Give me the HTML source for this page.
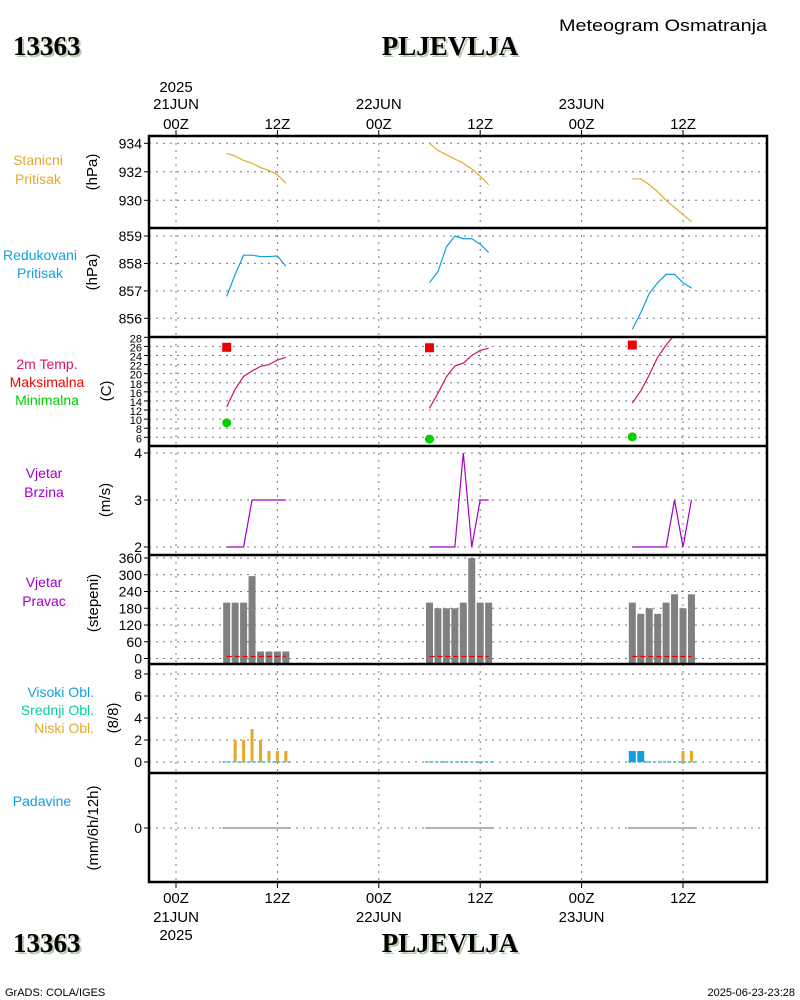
<!DOCTYPE html>
<html><head><meta charset="utf-8"><style>
body{margin:0;background:#fff;}
svg{display:block;font-family:"Liberation Sans",sans-serif;}
.ttl{font-family:"Liberation Serif",serif;font-weight:bold;font-size:27px;}
</style></head><body>
<svg id="c" width="800" height="1000" viewBox="0 0 800 1000" xmlns="http://www.w3.org/2000/svg">
<g>
<text x="663" y="31" text-anchor="middle" font-size="17" textLength="208" lengthAdjust="spacingAndGlyphs">Meteogram Osmatranja</text>
<text class="ttl" x="15" y="57" fill="#b8ccb0">13363</text>
<text class="ttl" x="13" y="55">13363</text>
<text class="ttl" x="452" y="57" text-anchor="middle" fill="#b8ccb0">PLJEVLJA</text>
<text class="ttl" x="450" y="55" text-anchor="middle">PLJEVLJA</text>
<text class="ttl" x="15" y="954" fill="#b8ccb0">13363</text>
<text class="ttl" x="13" y="952">13363</text>
<text class="ttl" x="452" y="954" text-anchor="middle" fill="#b8ccb0">PLJEVLJA</text>
<text class="ttl" x="450" y="952" text-anchor="middle">PLJEVLJA</text>
<text x="5" y="996" font-size="11">GrADS: COLA/IGES</text>
<text x="795" y="996" font-size="11" text-anchor="end">2025-06-23-23:28</text>
</g>
<g id="plot"></g>
</svg>
<script>
const NS="http://www.w3.org/2000/svg";
const hours=[6,7,8,9,10,11,12,13];
const dayOffsets=[0,24,48];
const stanP=[[933.3,933.1,932.8,932.6,932.3,932.1,931.8,931.2],[934.0,933.5,933.2,932.9,932.6,932.2,931.7,931.1],[931.5,931.5,931.1,930.6,930.0,929.5,929.0,928.5]];
const redP=[[856.8,857.6,858.3,858.3,858.25,858.25,858.27,857.9],[857.3,857.7,858.6,859.0,858.9,858.9,858.7,858.4],[855.6,856.2,856.9,857.3,857.6,857.6,857.3,857.1]];
const temp=[[12.7,16.6,19.4,20.6,21.6,22.0,23.0,23.6],[12.4,15.7,19.3,21.7,22.3,24.0,25.1,25.6],[13.5,16.2,19.7,23.6,26.3,28.5,29.5,30]];
const tMax=[25.8,25.7,26.3];
const tMin=[9.2,5.6,6.1];
const wSpd=[[2,2,2,3,3,3,3,3],[2,2,2,2,4,2,3,3],[2,2,2,2,2,3,2,3]];
const wDir=[[200,200,200,295,25,25,25,25],[200,180,180,180,200,360,200,200],[200,160,180,160,200,230,180,230]];
const lowCl=[[0,2,2,3,2,1,1,1],[0,0,0,0,0,0,0,0],[0,0,0,0,0,0,1,1]];
const highCl=[[0,0,0,0,0,0,0,0],[0,0,0,0,0,0,0,0],[1,1,0,0,0,0,0,0]];
const precip=[[0,0],[0,0],[0,0]];
const timeTicks=[0,12,24,36,48,60];
const timeLbl=["00Z","12Z","00Z","12Z","00Z","12Z"];
const dayLbl={0:"21JUN",24:"22JUN",48:"23JUN"};
const X0=149,X1=767;
const xs=h=>176+h*8.45;
const plot=document.getElementById('plot');
function el(tag,attrs,parent,txt){const e=document.createElementNS(NS,tag);for(const k in attrs)e.setAttribute(k,attrs[k]);if(txt!==undefined)e.textContent=txt;(parent||plot).appendChild(e);return e;}
function yScale(top,bot,vTop,vBot){return v=>top+(vTop-v)/(vTop-vBot)*(bot-top);}
const panels=[
 {name:"stanicni-pritisak",top:136,bot:228,vt:934,vb:930,y0:143.3,y1:200.3,ticks:[934,932,930],lab:["Stanicni","Pritisak"],col:["#e6a82a","#e6a82a"],unit:"(hPa)"},
 {name:"redukovani-pritisak",top:228,bot:337,vt:859,vb:856,y0:236,y1:318.3,ticks:[859,858,857,856],lab:["Redukovani","Pritisak"],col:["#10a0e0","#10a0e0"],unit:"(hPa)"},
 {name:"temperatura",top:337,bot:446,vt:28,vb:6,y0:337.3,y1:437.3,ticks:[28,26,24,22,20,18,16,14,12,10,8,6],lab:["2m Temp.","Maksimalna","Minimalna"],col:["#e0106a","#f00000","#00d000"],unit:"(C)"},
 {name:"vjetar-brzina",top:446,bot:555,vt:4,vb:2,y0:453,y1:547,ticks:[4,3,2],lab:["Vjetar","Brzina"],col:["#a000c8","#a000c8"],unit:"(m/s)"},
 {name:"vjetar-pravac",top:555,bot:664,vt:360,vb:0,y0:558,y1:658.5,ticks:[360,300,240,180,120,60,0],lab:["Vjetar","Pravac"],col:["#a000c8","#a000c8"],unit:"(stepeni)"},
 {name:"oblacnost",top:664,bot:773,vt:8,vb:0,y0:674,y1:762,ticks:[8,6,4,2,0],lab:["Visoki Obl.","Srednji Obl.","Niski Obl."],col:["#10a0e0","#00d0a0","#e6a82a"],unit:"(8/8)"},
 {name:"padavine",top:773,bot:882,vt:1,vb:0,y0:800,y1:828,ticks:[0],lab:["Padavine"],col:["#10a0e0"],unit:"(mm/6h/12h)"}
];
panels.forEach(p=>{p.y=yScale(p.y0,p.y1,p.vt,p.vb);});
const labY={"stanicni-pritisak":[165,184],"redukovani-pritisak":[260,278],"temperatura":[369,387,405],"vjetar-brzina":[478,497],"vjetar-pravac":[587,606],"oblacnost":[697,715,733],"padavine":[806]};
const labX={"stanicni-pritisak":38,"redukovani-pritisak":40,"temperatura":47,"vjetar-brzina":44,"vjetar-pravac":44,"oblacnost":94,"padavine":42};
const unitY={"stanicni-pritisak":172,"redukovani-pritisak":272,"temperatura":391,"vjetar-brzina":500,"vjetar-pravac":603,"oblacnost":718,"padavine":828};
const unitX={"stanicni-pritisak":97,"redukovani-pritisak":97,"temperatura":111,"vjetar-brzina":110,"vjetar-pravac":98,"oblacnost":118,"padavine":98};
panels.forEach(p=>{
 const g=el('g',{});
 
 
 const fs=p.name==="temperatura"?11:14;
 p.ticks.forEach(v=>{
  const y=p.y(v);
  const gl=el('line',{x1:X0,x2:X1,y1:y,y2:y,stroke:'#777','stroke-dasharray':'2,5'},g);
  
  
  el('line',{x1:X0-5,x2:X0,y1:y,y2:y,stroke:'#000'},g);
  const tl=el('text',{x:X0-7,y:y+5,'text-anchor':'end','font-size':fs},g,String(v));
  
  
 });
 timeTicks.forEach(h=>{
  const gl=el('line',{x1:xs(h),x2:xs(h),y1:p.top,y2:p.bot,stroke:'#777','stroke-dasharray':'2,5'},g);
  
  
 });
 p.lab.forEach((t,i)=>{
  const lt=el('text',{x:labX[p.name],y:labY[p.name][i],'text-anchor':p.name==="oblacnost"?'end':'middle','font-size':14,fill:p.col[i]},g,t);
  
  
 });
 const ut=el('text',{x:0,y:0,'text-anchor':'middle','font-size':15,transform:`translate(${unitX[p.name]},${unitY[p.name]}) rotate(-90)`},g,p.unit);
 
 
 p.g=g;
});
timeTicks.forEach((h,i)=>{
 el('line',{x1:xs(h),x2:xs(h),y1:130,y2:136,stroke:'#000'});
 el('line',{x1:xs(h),x2:xs(h),y1:882,y2:888,stroke:'#000'});
 const t1=el('text',{x:xs(h),y:129,'text-anchor':'middle','font-size':15},plot,timeLbl[i]);
 
 
 const t2=el('text',{x:xs(h),y:903,'text-anchor':'middle','font-size':15},plot,timeLbl[i]);
 
 
 if(dayLbl[h]!==undefined){
  const d1=el('text',{x:xs(h),y:109,'text-anchor':'middle','font-size':15},plot,dayLbl[h]);
  
  
  const d2=el('text',{x:xs(h),y:922,'text-anchor':'middle','font-size':15},plot,dayLbl[h]);
  
  
 }
});
el('text',{x:xs(0),y:92,'text-anchor':'middle','font-size':15},plot,"2025");
el('text',{x:xs(0),y:940,'text-anchor':'middle','font-size':15},plot,"2025");
el('defs',{}).innerHTML='<clipPath id="clipT"><rect x="149" y="337" width="618" height="109"/></clipPath>';
function line(p,vals,d,col,name){
 const pts=hours.map((h,i)=>xs(h+dayOffsets[d])+','+p.y(vals[i])).join(' ');
 const l=el('polyline',{points:pts,fill:'none',stroke:col,'stroke-width':1.2},p.g);
 if(p.name==="temperatura")l.setAttribute('clip-path','url(#clipT)');
 
 
}
for(let d=0;d<3;d++){
 line(panels[0],stanP[d],d,'#e6a82a','station-pressure-line');
 line(panels[1],redP[d],d,'#10a0e0','reduced-pressure-line');
 line(panels[2],temp[d],d,'#d0106a','temperature-line');
 line(panels[3],wSpd[d],d,'#a000c8','wind-speed-line');
 const pt=panels[2];
 const mx=el('rect',{x:xs(6+dayOffsets[d])-4.5,y:pt.y(tMax[d])-4.5,width:9,height:9,fill:'#f00000'},pt.g);
 
 
 const mn=el('circle',{cx:xs(6+dayOffsets[d]),cy:pt.y(tMin[d]),r:4.5,fill:'#00d000'},pt.g);
 
 
 const pw=panels[4];
 hours.forEach((h,i)=>{
  const b=el('rect',{x:xs(h+dayOffsets[d])-3.5,y:pw.y(wDir[d][i]),width:7,height:664-pw.y(wDir[d][i]),fill:'#808080'},pw.g);
  
  
 });
 el('line',{x1:xs(6+dayOffsets[d]),x2:xs(13+dayOffsets[d]),y1:pw.y(0)-2,y2:pw.y(0)-2,stroke:'#f00000','stroke-width':1.3,'stroke-dasharray':'5,3'},pw.g);
 const pc=panels[5];
 el('line',{x1:xs(5.5+dayOffsets[d]),x2:xs(13.5+dayOffsets[d]),y1:pc.y(0),y2:pc.y(0),stroke:'#20a0c0','stroke-width':1.2,'stroke-dasharray':'3,2'},pc.g);
 hours.forEach((h,i)=>{
  if(highCl[d][i]>0){const b=el('rect',{x:xs(h+dayOffsets[d])-3.5,y:pc.y(highCl[d][i]),width:7,height:pc.y(0)-pc.y(highCl[d][i]),fill:'#10a0e0'},pc.g);
   
   }
  if(lowCl[d][i]>0){const b=el('rect',{x:xs(h+dayOffsets[d])-1.5,y:pc.y(lowCl[d][i]),width:3,height:pc.y(0)-pc.y(lowCl[d][i]),fill:'#e6a82a'},pc.g);
   
   }
 });
 const pp=panels[6];
 const pl=el('line',{x1:xs(5.5+dayOffsets[d]),x2:xs(13.5+dayOffsets[d]),y1:pp.y(precip[d][0]),y2:pp.y(precip[d][1]),stroke:'#666','stroke-width':1},pp.g);
 
 
}
el('rect',{x:X0,y:136,width:X1-X0,height:746,fill:'none',stroke:'#000','stroke-width':2.5});
[228,337,446,555,664,773].forEach(y=>el('line',{x1:X0,x2:X1,y1:y,y2:y,stroke:'#000','stroke-width':2.5}));
</script>
</body></html>
